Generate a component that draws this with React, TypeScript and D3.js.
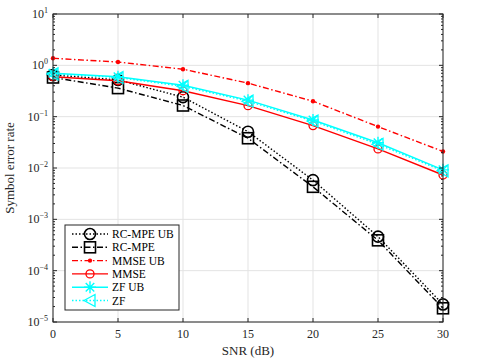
import React from 'react';
import * as d3 from 'd3';

const snr = [0, 5, 10, 15, 20, 25, 30];
const rcMpeUb = [0.65, 0.52, 0.24, 0.051, 0.0058, 0.00046, 0.000022];
const rcMpe = [0.58, 0.36, 0.165, 0.038, 0.0043, 0.00039, 0.0000185];
const mmseUb = [1.37, 1.16, 0.84, 0.45, 0.2, 0.064, 0.021];
const mmse = [0.6, 0.5, 0.32, 0.164, 0.067, 0.0235, 0.0073];
const zfUb = [0.7, 0.6, 0.41, 0.21, 0.086, 0.031, 0.0092];
const zf = [0.68, 0.58, 0.39, 0.2, 0.082, 0.029, 0.0088];

const xTicks = [0, 5, 10, 15, 20, 25, 30];
const yExps = [1, 0, -1, -2, -3, -4, -5];

type Marker = 'circle' | 'square' | 'dot' | 'smallcircle' | 'star' | 'triangle';

const series: { name: string; values: number[]; color: string; dash: string; marker: Marker }[] = [
  { name: 'RC-MPE UB', values: rcMpeUb, color: '#000', dash: '1.5,2', marker: 'circle' },
  { name: 'RC-MPE', values: rcMpe, color: '#000', dash: '6,2.5,1.5,2.5', marker: 'square' },
  { name: 'MMSE UB', values: mmseUb, color: '#f00', dash: '6,2.5,1.5,2.5', marker: 'dot' },
  { name: 'MMSE', values: mmse, color: '#f00', dash: '', marker: 'smallcircle' },
  { name: 'ZF UB', values: zfUb, color: '#0ff', dash: '', marker: 'star' },
  { name: 'ZF', values: zf, color: '#0ff', dash: '1.5,2', marker: 'triangle' },
];

const FONT = "'Liberation Serif', 'DejaVu Serif', serif";

function MarkerShape({ type, x, y, color }: { type: Marker; x: number; y: number; color: string }) {
  switch (type) {
    case 'circle':
      return <circle cx={x} cy={y} r={5.5} fill="none" stroke={color} strokeWidth={1.6} />;
    case 'square':
      return <rect x={x - 5.5} y={y - 5.5} width={11} height={11} fill="none" stroke={color} strokeWidth={1.6} />;
    case 'dot':
      return <circle cx={x} cy={y} r={2.2} fill={color} />;
    case 'smallcircle':
      return <circle cx={x} cy={y} r={4} fill="none" stroke={color} strokeWidth={1.3} />;
    case 'star': {
      const s = 6;
      const d = s * 0.71;
      return (
        <path
          d={`M${x - s},${y}L${x + s},${y}M${x},${y - s}L${x},${y + s}M${x - d},${y - d}L${x + d},${y + d}M${x - d},${y + d}L${x + d},${y - d}`}
          stroke={color}
          strokeWidth={1.4}
          fill="none"
        />
      );
    }
    case 'triangle':
      return (
        <path
          d={`M${x - 6},${y}L${x + 5},${y - 6}L${x + 5},${y + 6}Z`}
          stroke={color}
          strokeWidth={1.3}
          fill="none"
        />
      );
  }
}

export default function App() {
  const left = 53;
  const right = 443;
  const top = 14;
  const bottom = 322;
  const x = d3.scaleLinear().domain([0, 30]).range([left, right]);
  const y = d3.scaleLog().domain([1e-5, 10]).range([bottom, top]);
  const txt = { fontFamily: FONT };

  const minor: number[] = [];
  for (let e = -5; e < 1; e++) {
    for (let m = 2; m <= 9; m++) minor.push(m * Math.pow(10, e));
  }

  const line = (vals: number[]) =>
    d3.line<number>()
      .x((_, i) => x(snr[i]))
      .y((v) => y(v))(vals) ?? '';

  const legendX = 65;
  const legendY = 225;
  const rowH = 13.3;

  return (
    <svg width={483} height={362} style={{ position: 'absolute', left: 0, top: 0, background: '#fff' }}>
      <rect x={0} y={0} width={483} height={362} fill="#fff" />
      {/* grid */}
      {xTicks.map((t) => (
        <line key={`gx${t}`} x1={x(t)} x2={x(t)} y1={top} y2={bottom} stroke="#e3e3e3" strokeWidth={1} />
      ))}
      {yExps.map((e) => (
        <line key={`gy${e}`} x1={left} x2={right} y1={y(Math.pow(10, e))} y2={y(Math.pow(10, e))} stroke="#e3e3e3" strokeWidth={1} />
      ))}
      {/* series */}
      {series.map((s) => (
        <g key={s.name}>
          <path d={line(s.values)} fill="none" stroke={s.color} strokeWidth={1.4} strokeDasharray={s.dash || undefined} />
          {s.values.map((v, i) => (
            <MarkerShape key={i} type={s.marker} x={x(snr[i])} y={y(v)} color={s.color} />
          ))}
        </g>
      ))}
      {/* axes box */}
      <rect x={left} y={top} width={right - left} height={bottom - top} fill="none" stroke="#262626" strokeWidth={1} />
      {xTicks.map((t) => (
        <g key={`xt${t}`}>
          <line x1={x(t)} x2={x(t)} y1={bottom} y2={bottom - 4} stroke="#262626" />
          <line x1={x(t)} x2={x(t)} y1={top} y2={top + 4} stroke="#262626" />
          <text x={x(t)} y={338} textAnchor="middle" fontSize={12} fill="#262626" style={txt}>{t}</text>
        </g>
      ))}
      {yExps.map((e) => {
        const yy = y(Math.pow(10, e));
        return (
          <g key={`yt${e}`}>
            <line x1={left} x2={left + 4} y1={yy} y2={yy} stroke="#262626" />
            <line x1={right} x2={right - 4} y1={yy} y2={yy} stroke="#262626" />
            <text x={48} y={yy + 4} textAnchor="end" fontSize={12} fill="#262626" style={txt}>
              10
              <tspan dy={-5} fontSize={8}>{e < 0 ? `\u2212${-e}` : e}</tspan>
            </text>
          </g>
        );
      })}
      {minor.map((v, i) => (
        <g key={`mt${i}`}>
          <line x1={left} x2={left + 2} y1={y(v)} y2={y(v)} stroke="#262626" />
          <line x1={right} x2={right - 2} y1={y(v)} y2={y(v)} stroke="#262626" />
        </g>
      ))}
      <text x={(left + right) / 2} y={355} textAnchor="middle" fontSize={13} fill="#262626" style={txt}>SNR (dB)</text>
      <text transform={`translate(14,${(top + bottom) / 2}) rotate(-90)`} textAnchor="middle" fontSize={13} fill="#262626" style={txt}>
        Symbol error rate
      </text>
      {/* legend */}
      <rect x={legendX} y={legendY} width={114} height={85} fill="#fff" stroke="#262626" strokeWidth={1} />
      {series.map((s, i) => {
        const ly = legendY + 9 + i * rowH;
        return (
          <g key={`lg${s.name}`}>
            <line x1={72} x2={108} y1={ly} y2={ly} stroke={s.color} strokeWidth={1.4} strokeDasharray={s.dash || undefined} />
            <MarkerShape type={s.marker} x={90} y={ly} color={s.color} />
            <text x={112} y={ly + 4} fontSize={11.5} fill="#000" style={txt}>{s.name}</text>
          </g>
        );
      })}
    </svg>
  );
}
